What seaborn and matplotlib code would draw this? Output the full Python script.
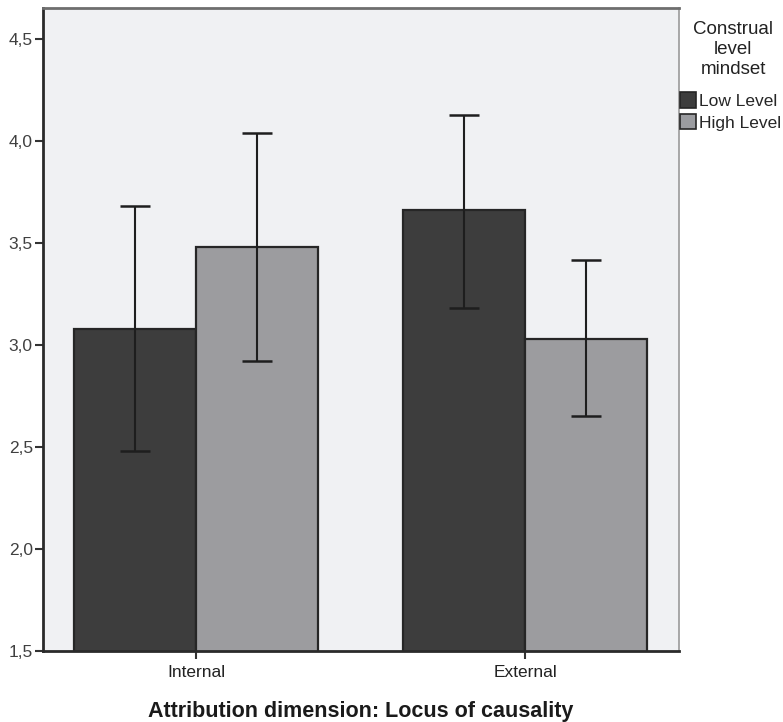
import matplotlib
matplotlib.use("Agg")
import matplotlib.pyplot as plt
import seaborn as sns
import pandas as pd
from matplotlib.patches import Patch

# ---- data ----
categories = ["Internal", "External"]
mindsets = ["Low Level", "High Level"]
mean_low = [3.08, 3.66]
mean_high = [3.48, 3.03]
ci_low_lower = [2.48, 3.18]
ci_low_upper = [3.68, 4.13]
ci_high_lower = [2.92, 2.65]
ci_high_upper = [4.04, 3.415]
ytick_values = [1.5, 2.0, 2.5, 3.0, 3.5, 4.0, 4.5]
ytick_labels = ["1,5", "2,0", "2,5", "3,0", "3,5", "4,0", "4,5"]
legend_title = "Construal\nlevel\nmindset"
xlabel = "Attribution dimension: Locus of causality"

colors = {"Low Level": "#3d3d3d", "High Level": "#9b9ca0"}

df = pd.DataFrame({
    "locus": categories * 2,
    "mindset": [mindsets[0]] * 2 + [mindsets[1]] * 2,
    "mean": mean_low + mean_high,
    "lo": ci_low_lower + ci_high_lower,
    "hi": ci_low_upper + ci_high_upper,
})

sns.set_style("white")
plt.rcParams["font.family"] = ["Liberation Sans", "DejaVu Sans"]

fig = plt.figure(figsize=(7.83, 7.22), dpi=100)
ax = fig.add_axes([0.0543, 0.0983, 0.8129, 0.8906])
ax.set_facecolor("#f0f1f3")

sns.barplot(data=df, x="locus", y="mean", hue="mindset", order=categories,
            hue_order=mindsets, palette=colors, errorbar=None, width=0.742,
            edgecolor="#262626", linewidth=1.6, ax=ax, legend=False)

for cont, m in zip(ax.containers, mindsets):
    sub = df[df["mindset"] == m].set_index("locus").loc[categories]
    xs = [p.get_x() + p.get_width() / 2 for p in cont.patches]
    ys = sub["mean"].values
    yerr = [ys - sub["lo"].values, sub["hi"].values - ys]
    ax.errorbar(xs, ys, yerr=yerr, fmt="none", ecolor="#1e1e1e",
                elinewidth=1.5, capsize=10.8, capthick=1.8, zorder=5)

ax.set_ylim(1.5, 4.652)
ax.set_xlim(-0.4666, 1.468)
ax.set_yticks(ytick_values)
ax.set_yticklabels(ytick_labels, fontsize=12.5, color="#404040")
ax.tick_params(axis="y", length=6, width=1.5, color="#333333", pad=1, left=True)
ax.tick_params(axis="x", length=6, width=1.5, color="#333333", pad=4, bottom=True,
               labelsize=12.5, labelcolor="#222222")
ax.set_xlabel(xlabel, fontsize=15.5, fontweight="bold", color="#1a1a1a", labelpad=15)
ax.set_ylabel("")

for s in ["left", "bottom"]:
    ax.spines[s].set_color("#2a2a2a")
    ax.spines[s].set_linewidth(2)
ax.spines["top"].set_color("#6e6e6e")
ax.spines["top"].set_linewidth(2)
ax.spines["right"].set_color("#9a9a9a")
ax.spines["right"].set_linewidth(1.2)

fig.text(733 / 783, 1 - 21 / 722, legend_title, ha="center", va="top",
         fontsize=13.5, linespacing=1.22, color="#222222")

handles = [Patch(facecolor=colors[m], edgecolor="#262626", linewidth=1.2, label=m)
           for m in mindsets]
leg = fig.legend(handles=handles, loc="upper left",
                 bbox_to_anchor=(680 / 783, 1 - 92 / 722), frameon=False, fontsize=12.5,
                 handlelength=0.95, handleheight=1.0,
                 handletextpad=0.15, labelspacing=0.3, borderaxespad=0,
                 borderpad=0.0)

fig.savefig("out.png", dpi=100)
